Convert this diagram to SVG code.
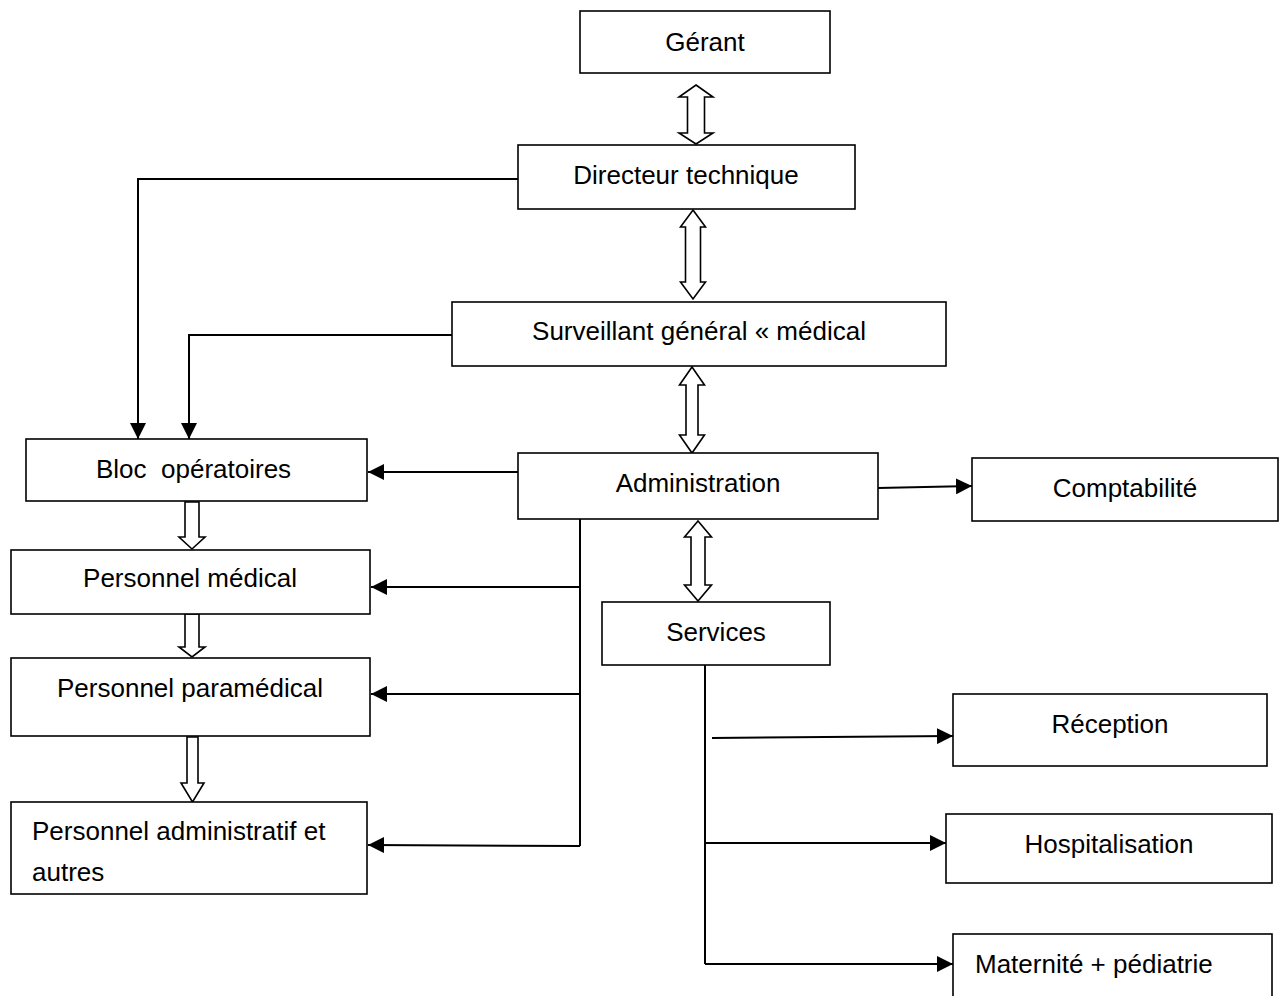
<svg xmlns="http://www.w3.org/2000/svg" width="1283" height="996" viewBox="0 0 1283 996">
<style>
.box{fill:#fff;stroke:#000;stroke-width:1.6}
.t{font-family:"Liberation Sans",Arial,sans-serif;font-size:26px;fill:#000}
.c{text-anchor:middle}
.ln{fill:none;stroke:#000;stroke-width:2}
.ha{fill:#fff;stroke:#000;stroke-width:1.6;stroke-linejoin:miter}
</style>
<defs>
<marker id="ah" markerUnits="userSpaceOnUse" markerWidth="16" markerHeight="16" viewBox="0 0 15 15" refX="15" refY="7.5" orient="auto">
<path d="M0,0 L15,7.5 L0,15 z" fill="#000"/>
</marker>
</defs>
<rect width="1283" height="996" fill="#fff"/>

<g id="connectors">
<polyline class="ln" points="518,179 138,179 138,439" marker-end="url(#ah)"/>
<polyline class="ln" points="452,335 189,335 189,439" marker-end="url(#ah)"/>
<line class="ln" x1="518" y1="472" x2="368" y2="472" marker-end="url(#ah)"/>
<line class="ln" x1="580" y1="517" x2="580" y2="846"/>
<line class="ln" x1="580" y1="587" x2="371" y2="587" marker-end="url(#ah)"/>
<line class="ln" x1="580" y1="694" x2="371" y2="694" marker-end="url(#ah)"/>
<line class="ln" x1="580" y1="846" x2="368" y2="845" marker-end="url(#ah)"/>
<line class="ln" x1="878" y1="488" x2="972" y2="486" marker-end="url(#ah)"/>
<line class="ln" x1="705" y1="665" x2="705" y2="964"/>
<line class="ln" x1="712" y1="738" x2="953" y2="736" marker-end="url(#ah)"/>
<line class="ln" x1="705" y1="843" x2="946" y2="843" marker-end="url(#ah)"/>
<line class="ln" x1="705" y1="964" x2="953" y2="964" marker-end="url(#ah)"/>
<polygon class="ha" points="696,85 713,97 704.5,97 704.5,133 713,133 696,144 679,133 687.5,133 687.5,97 679,97"/>
<polygon class="ha" points="693,210 705.5,227 700.5,227 700.5,282 705.5,282 693,299 680.5,282 685.5,282 685.5,227 680.5,227"/>
<polygon class="ha" points="692,367 704.5,385 698,385 698,435 704.5,435 692,453 679.5,435 686,435 686,385 679.5,385"/>
<polygon class="ha" points="698,521 711.5,537 705,537 705,585 711.5,585 698,601 684.5,585 691,585 691,537 684.5,537"/>
<polygon class="ha" points="185,502 199,502 199,537 205,537 192,549 179,537 185,537"/>
<polygon class="ha" points="185,614 199,614 199,647 205,647 192,657 179,647 185,647"/>
<polygon class="ha" points="187,737 198,737 198,783 204,783 192.5,802 181,783 187,783"/>
</g>

<g id="gerant"><rect class="box" x="580" y="11" width="250" height="62"/><text class="t c" x="705" y="51">Gérant</text></g>
<g id="directeur"><rect class="box" x="518" y="145" width="337" height="64"/><text class="t c" x="686" y="184">Directeur technique</text></g>
<g id="surveillant"><rect class="box" x="452" y="302" width="494" height="64"/><text class="t c" x="699" y="340">Surveillant général « médical</text></g>
<g id="administration"><rect class="box" x="518" y="453" width="360" height="66"/><text class="t c" x="698" y="492">Administration</text></g>
<g id="comptabilite"><rect class="box" x="972" y="458" width="306" height="63"/><text class="t c" x="1125" y="497">Comptabilité</text></g>
<g id="services"><rect class="box" x="602" y="602" width="228" height="63"/><text class="t c" x="716" y="641">Services</text></g>
<g id="reception"><rect class="box" x="953" y="694" width="314" height="72"/><text class="t c" x="1110" y="733">Réception</text></g>
<g id="hospitalisation"><rect class="box" x="946" y="814" width="326" height="69"/><text class="t c" x="1109" y="853">Hospitalisation</text></g>
<g id="maternite"><rect class="box" x="953" y="934" width="319" height="80"/><text class="t" x="975" y="973">Maternité + pédiatrie</text></g>
<g id="bloc"><rect class="box" x="26" y="439" width="341" height="62"/><text class="t" x="96" y="478" xml:space="preserve">Bloc  opératoires</text></g>
<g id="medical"><rect class="box" x="11" y="550" width="359" height="64"/><text class="t c" x="190" y="587">Personnel médical</text></g>
<g id="paramedical"><rect class="box" x="11" y="658" width="359" height="78"/><text class="t c" x="190" y="697">Personnel paramédical</text></g>
<g id="administratif"><rect class="box" x="11" y="802" width="356" height="92"/><text class="t" x="32" y="840">Personnel administratif et</text><text class="t" x="32" y="881">autres</text></g>
</svg>
